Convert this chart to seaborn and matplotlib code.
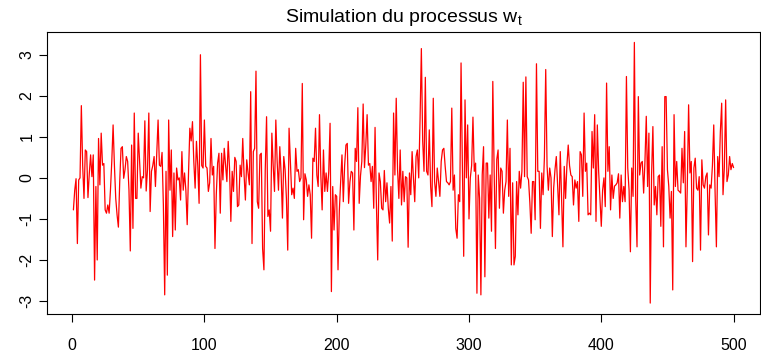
import numpy as np
import pandas as pd
import seaborn as sns
import matplotlib.pyplot as plt

# valeurs (bruit blanc w_t, t = 1..500)
w_1_48 = [-0.78, -0.3, -0.02, -1.6, -0.05, 0.0, 1.76, 0.3, -0.5, 0.68,
          0.64, -0.48, 0.1, 0.56, 0.03, 0.56, -2.49, -0.21, -2.0, 0.96,
          -0.17, 1.09, 0.31, 0.35, -0.78, -0.86, -0.66, -0.86, -0.3, 0.4,
          1.29, 0.3, -0.5, -0.9, -1.2, -0.1, 0.72, 0.76, -0.01, 0.2,
          0.52, 0.4, -0.3, -1.78, 0.8, -1.23, 1.58, -0.5]
w_49_95 = [-0.5, 1.09, 0.4, -0.25, 0.03, 0.0, 1.39, -0.32, 0.2, 1.58,
           -0.82, 0.16, 0.3, 0.52, -0.21, 0.6, 1.41, 0.31, 0.28, 0.62,
           -0.66, -2.85, 0.16, -2.37, 1.41, -0.3, 0.68, -1.43, 0.12, -1.27,
           0.24, -0.05, 0.0, -0.54, 0.64, -0.3, 0.12, -0.3, -1.14, 0.1,
           1.21, 0.9, 1.37, 0.4, -0.25, 0.89, 0.3]
w_96_150 = [-0.62, 3.0, 0.3, 0.24, 1.41, 0.28, 0.24, -0.33, -0.12, 0.96,
            0.07, 0.28, -1.72, -0.4, 0.36, 0.6, -0.86, 0.6, -0.05, 0.72,
            0.3, -0.09, 0.89, 0.24, -1.06, 0.16, -0.33, 0.5, 0.4, -0.7,
            -0.66, 0.31, 0.03, 0.96, 0.07, -0.54, 0.44, 0.12, -0.17, 2.1,
            -1.6, 0.64, 0.72, 2.6, -0.58, -0.74, 0.56, 0.6, -1.72, -2.24,
            0.2, 1.49, -0.94, -0.78, -1.3]
w_151_199 = [1.09, 0.3, -0.33, 1.41, 0.4, -0.3, 0.76, 0.1, -0.98, 0.52,
             0.2, -0.5, -1.76, 1.21, 0.4, -0.41, -0.25, -0.5, 0.72, 0.16,
             0.2, -0.09, 0.0, 2.3, -1.02, 0.1, -0.05, -0.45, -0.17, -0.41,
             -1.47, 0.48, 0.4, 1.21, 0.07, -0.21, 1.54, 0.07, -0.78, 0.68,
             -0.33, 0.12, -0.33, 0.16, 1.33, -2.77, -0.21, -1.27, -0.41]
w_200_249 = [-0.45, -2.24, -0.8, -0.09, 0.56, -0.58, 0.3, 0.8, 0.84, -0.62,
             -0.1, 0.16, 0.12, -1.27, 0.72, 0.4, 1.71, -0.62, 0.05, 0.4,
             1.8, 0.25, 0.8, 1.54, 0.31, 0.35, -0.09, 0.28, -0.74, 1.23,
             -0.6, -2.0, 0.12, -0.09, -0.74, -0.78, 0.18, -0.58, -0.12, -0.74,
             -1.1, -0.21, -1.54, 1.58, 0.07, 1.94, 0.2, -0.5, 0.68, -0.66]
w_250_299 = [0.16, -0.58, 0.03, 0.0, -1.69, 0.12, -0.41, 0.64, 0.0, -0.58,
             0.52, 0.68, 0.0, 1.4, 3.15, 0.9, 0.16, 2.45, 0.16, 0.07,
             1.17, -0.2, -0.7, 1.94, -0.09, -0.45, 0.24, -0.09, -0.45, 0.4,
             0.68, 0.72, 0.28, -0.09, -0.12, -0.17, -0.09, 1.7, -0.3, 0.07,
             -1.23, -1.47, -0.41, -0.58, 2.8, 0.3, -1.91, 1.9, 0.0, 1.29]
w_300_349 = [-1.0, 0.0, 0.3, 1.48, 0.16, 0.36, -2.81, 0.07, -0.5, -2.85,
             0.07, 0.76, -2.41, 0.36, 0.36, -0.98, 0.07, -1.3, 2.35, 0.2,
             -1.72, 0.45, 0.68, -0.74, 0.24, 0.16, -0.86, -0.3, -0.09, 1.41,
             -0.45, 0.72, -2.12, -0.12, -2.12, -1.91, -0.09, -0.9, 0.16, -0.25,
             0.16, 2.33, 0.03, 2.46, 0.03, -0.05, -0.6, -1.35, -0.09, -0.09]
w_350_399 = [-1.02, 2.78, 0.16, 0.16, -1.23, 0.12, -0.41, 0.5, 2.64, 0.3,
             -0.3, 0.24, 0.0, -1.43, -0.25, 0.2, 0.52, -0.2, -0.9, 0.64,
             -0.5, -1.68, 0.28, -0.5, 0.3, 0.8, 0.3, 0.07, 0.03, -0.66,
             -0.05, -0.25, -0.09, -1.06, 0.64, 0.56, -0.45, 1.58, 0.16, 0.36,
             -0.9, -0.86, -0.9, 1.13, 0.24, 1.54, -1.06, 1.29, 0.16, -0.5]
w_400_448 = [-1.18, -0.3, 0.0, -0.7, 2.31, 0.16, 0.76, -0.78, 0.07, -0.5,
             -0.2, -0.17, -0.12, 0.1, -0.98, 0.07, -0.58, -0.21, -0.58, 2.47,
             0.24, -0.3, -1.8, 0.24, -0.45, 3.3, -0.5, -1.68, 1.98, 0.07,
             0.36, 0.4, -0.37, 0.4, 1.5, -0.21, 1.09, -3.05, 0.07, 1.25,
             -0.66, -0.21, -0.9, 0.03, 0.07, -1.18, 0.76, -1.68, 1.98]
w_449_500 = [1.98, 0.2, -0.2, -0.98, -0.33, -2.73, 1.54, -0.21, 0.4, -0.3,
             -0.33, -0.37, 0.72, -0.12, 1.13, -1.68, -0.21, 1.78, 0.12, 0.4,
             -2.04, 0.24, 0.48, -0.25, -0.3, 0.03, -1.76, 0.44, -0.17, -0.25,
             0.03, 0.12, -1.39, -0.17, -0.25, 0.3, 1.29, -0.33, -1.68, 0.52,
             0.03, 1.13, 1.82, -0.41, 0.24, 1.9, -0.09, 0.07, 0.52, 0.2,
             0.35, 0.25]

w = (w_1_48 + w_49_95 + w_96_150 + w_151_199 + w_200_249 + w_250_299
     + w_300_349 + w_350_399 + w_400_448 + w_449_500)
df = pd.DataFrame({'t': np.arange(1, len(w) + 1), 'w': w})

x_ticks = [0, 100, 200, 300, 400, 500]
y_ticks = [-3, -2, -1, 0, 1, 2, 3]

sns.set_style('white')
plt.rcParams['font.family'] = ['Liberation Sans', 'DejaVu Sans']
plt.rcParams['text.color'] = 'black'
plt.rcParams['xtick.color'] = 'black'
plt.rcParams['ytick.color'] = 'black'

fig = plt.figure(figsize=(7.61, 3.57), dpi=100)
ax = fig.add_axes([47 / 761, 43.5 / 357, 713 / 761, 281.5 / 357])
sns.lineplot(data=df, x='t', y='w', color='red', linewidth=0.9, ax=ax)
ax.margins(x=0.04, y=0.04)
ax.set_xticks(x_ticks)
ax.set_yticks(y_ticks)
ax.set_yticklabels([str(v) for v in y_ticks], rotation=90, va='center')
ax.tick_params(direction='out', length=6, width=0.8, labelsize=11.5,
               bottom=True, left=True)
ax.tick_params(axis='x', pad=12)
ax.tick_params(axis='y', pad=3)
for s in ax.spines.values():
    s.set_color('black')
    s.set_linewidth(0.8)
ax.set_xlabel('')
ax.set_ylabel('')
ax.set_title(r'Simulation du processus $\mathregular{w_t}$', fontsize=14, pad=7)

fig.savefig('out.png', dpi=100)
